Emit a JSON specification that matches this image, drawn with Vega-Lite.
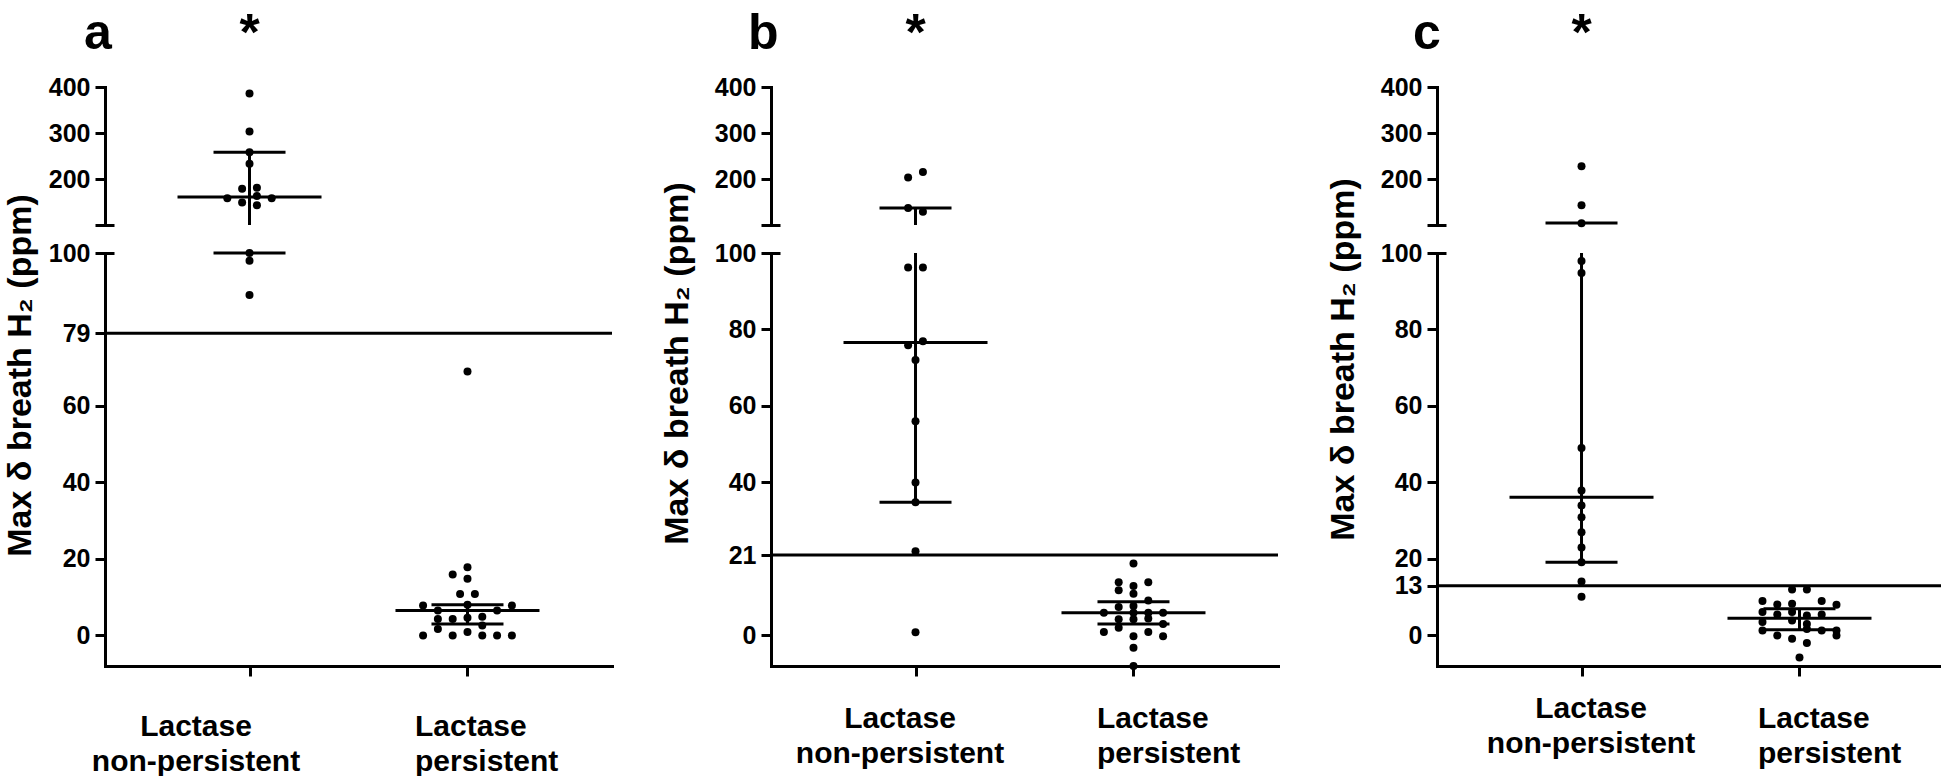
{
  "$schema": "https://vega.github.io/schema/vega-lite/v6.json",
  "background": "white",
  "padding": {"left": 2, "top": 8, "right": 0, "bottom": 0},
  "autosize": {"type": "pad"},
  "columns": 3,
  "spacing": {"row": 28, "column": 159},
  "bounds": "flush",
  "datasets": {
    "pts": [
      {"panel": "a", "grp": "NP", "v": 386, "j": 0}, {"panel": "a", "grp": "NP", "v": 303, "j": 0}, {"panel": "a", "grp": "NP", "v": 258, "j": 0}, {"panel": "a", "grp": "NP", "v": 233, "j": 0},
      {"panel": "a", "grp": "NP", "v": 179, "j": -1}, {"panel": "a", "grp": "NP", "v": 181, "j": 1}, {"panel": "a", "grp": "NP", "v": 158, "j": -3}, {"panel": "a", "grp": "NP", "v": 149, "j": -1},
      {"panel": "a", "grp": "NP", "v": 163, "j": 1}, {"panel": "a", "grp": "NP", "v": 158, "j": 3}, {"panel": "a", "grp": "NP", "v": 143, "j": 1}, {"panel": "a", "grp": "NP", "v": 100, "j": 0},
      {"panel": "a", "grp": "NP", "v": 98, "j": 0}, {"panel": "a", "grp": "NP", "v": 89, "j": 0},
      {"panel": "a", "grp": "P", "v": 69, "j": 0}, {"panel": "a", "grp": "P", "v": 17.8, "j": 0}, {"panel": "a", "grp": "P", "v": 15.9, "j": -2}, {"panel": "a", "grp": "P", "v": 14.8, "j": 0},
      {"panel": "a", "grp": "P", "v": 10.8, "j": -1}, {"panel": "a", "grp": "P", "v": 10.8, "j": 1}, {"panel": "a", "grp": "P", "v": 7.8, "j": -6}, {"panel": "a", "grp": "P", "v": 8, "j": 0},
      {"panel": "a", "grp": "P", "v": 7.8, "j": 6}, {"panel": "a", "grp": "P", "v": 6.5, "j": -4}, {"panel": "a", "grp": "P", "v": 6.5, "j": 4}, {"panel": "a", "grp": "P", "v": 4.3, "j": -4},
      {"panel": "a", "grp": "P", "v": 4.3, "j": -2}, {"panel": "a", "grp": "P", "v": 4.6, "j": 0}, {"panel": "a", "grp": "P", "v": 4.9, "j": 2}, {"panel": "a", "grp": "P", "v": 1.7, "j": -4},
      {"panel": "a", "grp": "P", "v": 2.6, "j": 2}, {"panel": "a", "grp": "P", "v": 0, "j": -6}, {"panel": "a", "grp": "P", "v": 0, "j": -2}, {"panel": "a", "grp": "P", "v": 0.9, "j": 0},
      {"panel": "a", "grp": "P", "v": 0, "j": 2}, {"panel": "a", "grp": "P", "v": 0, "j": 4}, {"panel": "a", "grp": "P", "v": 0, "j": 6},
      {"panel": "b", "grp": "NP", "v": 215, "j": 1}, {"panel": "b", "grp": "NP", "v": 203, "j": -1}, {"panel": "b", "grp": "NP", "v": 137, "j": -1}, {"panel": "b", "grp": "NP", "v": 128.6, "j": 1},
      {"panel": "b", "grp": "NP", "v": 96.2, "j": -1}, {"panel": "b", "grp": "NP", "v": 96.2, "j": 1}, {"panel": "b", "grp": "NP", "v": 75.9, "j": -1}, {"panel": "b", "grp": "NP", "v": 76.9, "j": 1},
      {"panel": "b", "grp": "NP", "v": 72, "j": 0}, {"panel": "b", "grp": "NP", "v": 56, "j": 0}, {"panel": "b", "grp": "NP", "v": 40, "j": 0}, {"panel": "b", "grp": "NP", "v": 34.8, "j": 0},
      {"panel": "b", "grp": "NP", "v": 22, "j": 0}, {"panel": "b", "grp": "NP", "v": 0.8, "j": 0},
      {"panel": "b", "grp": "P", "v": 18.8, "j": 0}, {"panel": "b", "grp": "P", "v": 13.9, "j": -2}, {"panel": "b", "grp": "P", "v": 12.9, "j": 0}, {"panel": "b", "grp": "P", "v": 13.9, "j": 2},
      {"panel": "b", "grp": "P", "v": 11.8, "j": -2}, {"panel": "b", "grp": "P", "v": 10.9, "j": 0}, {"panel": "b", "grp": "P", "v": 9.1, "j": 2}, {"panel": "b", "grp": "P", "v": 7.7, "j": 0},
      {"panel": "b", "grp": "P", "v": 7.4, "j": -2}, {"panel": "b", "grp": "P", "v": 5.9, "j": -4}, {"panel": "b", "grp": "P", "v": 5.9, "j": 0}, {"panel": "b", "grp": "P", "v": 5.9, "j": 2},
      {"panel": "b", "grp": "P", "v": 5.9, "j": 4}, {"panel": "b", "grp": "P", "v": 4.2, "j": -2}, {"panel": "b", "grp": "P", "v": 4.2, "j": 0}, {"panel": "b", "grp": "P", "v": 4.4, "j": 2},
      {"panel": "b", "grp": "P", "v": 3, "j": 4}, {"panel": "b", "grp": "P", "v": 2, "j": -2}, {"panel": "b", "grp": "P", "v": 0.9, "j": -4}, {"panel": "b", "grp": "P", "v": 0.9, "j": 2},
      {"panel": "b", "grp": "P", "v": -0.2, "j": 4}, {"panel": "b", "grp": "P", "v": -0.2, "j": 0}, {"panel": "b", "grp": "P", "v": -3.2, "j": 0}, {"panel": "b", "grp": "P", "v": -8, "j": 0},
      {"panel": "c", "grp": "NP", "v": 227.8, "j": 0}, {"panel": "c", "grp": "NP", "v": 142.8, "j": 0}, {"panel": "c", "grp": "NP", "v": 103.7, "j": 0}, {"panel": "c", "grp": "NP", "v": 97.9, "j": 0},
      {"panel": "c", "grp": "NP", "v": 94.8, "j": 0}, {"panel": "c", "grp": "NP", "v": 49, "j": 0}, {"panel": "c", "grp": "NP", "v": 37.9, "j": 0}, {"panel": "c", "grp": "NP", "v": 34, "j": 0},
      {"panel": "c", "grp": "NP", "v": 30.9, "j": 0}, {"panel": "c", "grp": "NP", "v": 27, "j": 0}, {"panel": "c", "grp": "NP", "v": 23, "j": 0}, {"panel": "c", "grp": "NP", "v": 19.1, "j": 0},
      {"panel": "c", "grp": "NP", "v": 14.1, "j": 0}, {"panel": "c", "grp": "NP", "v": 10.1, "j": 0},
      {"panel": "c", "grp": "P", "v": 12, "j": -1}, {"panel": "c", "grp": "P", "v": 12, "j": 1}, {"panel": "c", "grp": "P", "v": 9, "j": -5}, {"panel": "c", "grp": "P", "v": 8.1, "j": -3},
      {"panel": "c", "grp": "P", "v": 8.3, "j": -1}, {"panel": "c", "grp": "P", "v": 9, "j": 3}, {"panel": "c", "grp": "P", "v": 8, "j": 5}, {"panel": "c", "grp": "P", "v": 6.1, "j": -5},
      {"panel": "c", "grp": "P", "v": 5.5, "j": -3}, {"panel": "c", "grp": "P", "v": 6.1, "j": -1}, {"panel": "c", "grp": "P", "v": 5.2, "j": 1}, {"panel": "c", "grp": "P", "v": 5.5, "j": 3},
      {"panel": "c", "grp": "P", "v": 3.9, "j": -1}, {"panel": "c", "grp": "P", "v": 3.5, "j": -5}, {"panel": "c", "grp": "P", "v": 3, "j": 1}, {"panel": "c", "grp": "P", "v": 1.7, "j": 1},
      {"panel": "c", "grp": "P", "v": 1.3, "j": -5}, {"panel": "c", "grp": "P", "v": 1.3, "j": 3}, {"panel": "c", "grp": "P", "v": 1.3, "j": 5}, {"panel": "c", "grp": "P", "v": 0, "j": -3},
      {"panel": "c", "grp": "P", "v": -0.9, "j": -1}, {"panel": "c", "grp": "P", "v": 0, "j": 5}, {"panel": "c", "grp": "P", "v": -2, "j": 1}, {"panel": "c", "grp": "P", "v": -5.8, "j": 0}
    ],
    "stats": [
      {"panel": "a", "grp": "NP", "q1": 100, "med": 161, "q3": 258},
      {"panel": "a", "grp": "P", "q1": 3, "med": 6.5, "q3": 8},
      {"panel": "b", "grp": "NP", "q1": 34.8, "med": 76.6, "q3": 137},
      {"panel": "b", "grp": "P", "q1": 3, "med": 5.9, "q3": 8.8},
      {"panel": "c", "grp": "NP", "q1": 19.1, "med": 36.1, "q3": 104.3},
      {"panel": "c", "grp": "P", "q1": 1.5, "med": 4.5, "q3": 7}
    ],
    "thr": [
      {"panel": "a", "t": 79}, {"panel": "b", "t": 21}, {"panel": "c", "t": 13}
    ],
    "star": [
      {"panel": "a", "grp": "NP", "y": 480}, {"panel": "b", "grp": "NP", "y": 480}, {"panel": "c", "grp": "NP", "y": 480}
    ]
  },
  "concat": [
    {
      "width": 507, "height": 138,
      "title": {"text": "a", "anchor": "start", "frame": "group", "dx": -21, "offset": -91, "fontSize": 50, "font": "Liberation Sans", "fontWeight": "bold", "color": "black", "baseline": "alphabetic"},
      "resolve": {"axis": {"y": "independent", "x": "independent"}},
      "layer": [
        {"data": {"name": "pts"}, "transform": [{"filter": "datum.panel == 'a' && datum.v > 100"}],
         "mark": {"type": "circle", "size": 64, "opacity": 1, "color": "black"},
         "encoding": {
           "x": {"field": "grp", "type": "nominal", "scale": {"type": "point", "domain": ["NP", "P"], "padding": 0.663}, "axis": null},
           "xOffset": {"field": "j", "type": "quantitative", "scale": {"domain": [-6, 6], "range": [-44.4, 44.4]}},
           "y": {"field": "v", "type": "quantitative", "scale": {"domain": [100, 400], "nice": false, "zero": false}, "axis": {"values": [100, 200, 300, 400], "labelExpr": "datum.value == 100 ? '' : datum.label", "title": null}}
         }},
        {"data": {"name": "stats"}, "transform": [{"filter": "datum.panel == 'a'"}],
         "mark": {"type": "rule", "strokeWidth": 3, "color": "black", "opacity": 1, "clip": true},
         "encoding": {
           "x": {"field": "grp", "type": "nominal", "axis": null},
           "y": {"field": "q1", "type": "quantitative", "axis": {"orient": "left", "values": [100], "tickSize": -9, "labels": false, "domain": false, "title": null}},
           "y2": {"field": "q3"}
         }},
        {"data": {"name": "stats"}, "transform": [{"filter": "datum.panel == 'a' && datum.med > 100"}],
         "mark": {"type": "tick", "size": 144, "thickness": 3, "color": "black", "opacity": 1, "orient": "horizontal"},
         "encoding": {"x": {"field": "grp", "type": "nominal", "axis": null}, "y": {"field": "med", "type": "quantitative", "axis": null}}},
        {"data": {"name": "stats"}, "transform": [{"filter": "datum.panel == 'a' && datum.q1 > 100"}],
         "mark": {"type": "tick", "size": 72, "thickness": 3, "color": "black", "opacity": 1, "orient": "horizontal"},
         "encoding": {"x": {"field": "grp", "type": "nominal", "axis": null}, "y": {"field": "q1", "type": "quantitative", "axis": null}}},
        {"data": {"name": "stats"}, "transform": [{"filter": "datum.panel == 'a' && datum.q3 > 100"}],
         "mark": {"type": "tick", "size": 72, "thickness": 3, "color": "black", "opacity": 1, "orient": "horizontal"},
         "encoding": {"x": {"field": "grp", "type": "nominal", "axis": null}, "y": {"field": "q3", "type": "quantitative", "axis": null}}},
        {"data": {"name": "star"}, "transform": [{"filter": "datum.panel == 'a'"}],
         "mark": {"type": "text", "text": "*", "fontSize": 52, "fontWeight": "bold", "font": "Liberation Sans", "color": "black", "baseline": "alphabetic", "align": "center"},
         "encoding": {"x": {"field": "grp", "type": "nominal", "axis": null}, "y": {"field": "y", "type": "quantitative", "axis": null}}}
      ]
    },
    {
      "width": 507, "height": 138,
      "title": {"text": "b", "anchor": "start", "frame": "group", "dx": -23, "offset": -91, "fontSize": 50, "font": "Liberation Sans", "fontWeight": "bold", "color": "black", "baseline": "alphabetic"},
      "resolve": {"axis": {"y": "independent", "x": "independent"}},
      "layer": [
        {"data": {"name": "pts"}, "transform": [{"filter": "datum.panel == 'b' && datum.v > 100"}],
         "mark": {"type": "circle", "size": 64, "opacity": 1, "color": "black"},
         "encoding": {
           "x": {"field": "grp", "type": "nominal", "scale": {"type": "point", "domain": ["NP", "P"], "padding": 0.663}, "axis": null},
           "xOffset": {"field": "j", "type": "quantitative", "scale": {"domain": [-6, 6], "range": [-44.4, 44.4]}},
           "y": {"field": "v", "type": "quantitative", "scale": {"domain": [100, 400], "nice": false, "zero": false}, "axis": {"values": [100, 200, 300, 400], "labelExpr": "datum.value == 100 ? '' : datum.label", "title": null}}
         }},
        {"data": {"name": "stats"}, "transform": [{"filter": "datum.panel == 'b'"}],
         "mark": {"type": "rule", "strokeWidth": 3, "color": "black", "opacity": 1, "clip": true},
         "encoding": {
           "x": {"field": "grp", "type": "nominal", "axis": null},
           "y": {"field": "q1", "type": "quantitative", "axis": {"orient": "left", "values": [100], "tickSize": -9, "labels": false, "domain": false, "title": null}},
           "y2": {"field": "q3"}
         }},
        {"data": {"name": "stats"}, "transform": [{"filter": "datum.panel == 'b' && datum.med > 100"}],
         "mark": {"type": "tick", "size": 144, "thickness": 3, "color": "black", "opacity": 1, "orient": "horizontal"},
         "encoding": {"x": {"field": "grp", "type": "nominal", "axis": null}, "y": {"field": "med", "type": "quantitative", "axis": null}}},
        {"data": {"name": "stats"}, "transform": [{"filter": "datum.panel == 'b' && datum.q1 > 100"}],
         "mark": {"type": "tick", "size": 72, "thickness": 3, "color": "black", "opacity": 1, "orient": "horizontal"},
         "encoding": {"x": {"field": "grp", "type": "nominal", "axis": null}, "y": {"field": "q1", "type": "quantitative", "axis": null}}},
        {"data": {"name": "stats"}, "transform": [{"filter": "datum.panel == 'b' && datum.q3 > 100"}],
         "mark": {"type": "tick", "size": 72, "thickness": 3, "color": "black", "opacity": 1, "orient": "horizontal"},
         "encoding": {"x": {"field": "grp", "type": "nominal", "axis": null}, "y": {"field": "q3", "type": "quantitative", "axis": null}}},
        {"data": {"name": "star"}, "transform": [{"filter": "datum.panel == 'b'"}],
         "mark": {"type": "text", "text": "*", "fontSize": 52, "fontWeight": "bold", "font": "Liberation Sans", "color": "black", "baseline": "alphabetic", "align": "center"},
         "encoding": {"x": {"field": "grp", "type": "nominal", "axis": null}, "y": {"field": "y", "type": "quantitative", "axis": null}}}
      ]
    },
    {
      "width": 507, "height": 138,
      "title": {"text": "c", "anchor": "start", "frame": "group", "dx": -24, "offset": -91, "fontSize": 50, "font": "Liberation Sans", "fontWeight": "bold", "color": "black", "baseline": "alphabetic"},
      "resolve": {"axis": {"y": "independent", "x": "independent"}},
      "layer": [
        {"data": {"name": "pts"}, "transform": [{"filter": "datum.panel == 'c' && datum.v > 100"}],
         "mark": {"type": "circle", "size": 64, "opacity": 1, "color": "black"},
         "encoding": {
           "x": {"field": "grp", "type": "nominal", "scale": {"type": "point", "domain": ["NP", "P"], "padding": 0.663}, "axis": null},
           "xOffset": {"field": "j", "type": "quantitative", "scale": {"domain": [-6, 6], "range": [-44.4, 44.4]}},
           "y": {"field": "v", "type": "quantitative", "scale": {"domain": [100, 400], "nice": false, "zero": false}, "axis": {"values": [100, 200, 300, 400], "labelExpr": "datum.value == 100 ? '' : datum.label", "title": null}}
         }},
        {"data": {"name": "stats"}, "transform": [{"filter": "datum.panel == 'c'"}],
         "mark": {"type": "rule", "strokeWidth": 3, "color": "black", "opacity": 1, "clip": true},
         "encoding": {
           "x": {"field": "grp", "type": "nominal", "axis": null},
           "y": {"field": "q1", "type": "quantitative", "axis": {"orient": "left", "values": [100], "tickSize": -9, "labels": false, "domain": false, "title": null}},
           "y2": {"field": "q3"}
         }},
        {"data": {"name": "stats"}, "transform": [{"filter": "datum.panel == 'c' && datum.med > 100"}],
         "mark": {"type": "tick", "size": 144, "thickness": 3, "color": "black", "opacity": 1, "orient": "horizontal"},
         "encoding": {"x": {"field": "grp", "type": "nominal", "axis": null}, "y": {"field": "med", "type": "quantitative", "axis": null}}},
        {"data": {"name": "stats"}, "transform": [{"filter": "datum.panel == 'c' && datum.q1 > 100"}],
         "mark": {"type": "tick", "size": 72, "thickness": 3, "color": "black", "opacity": 1, "orient": "horizontal"},
         "encoding": {"x": {"field": "grp", "type": "nominal", "axis": null}, "y": {"field": "q1", "type": "quantitative", "axis": null}}},
        {"data": {"name": "stats"}, "transform": [{"filter": "datum.panel == 'c' && datum.q3 > 100"}],
         "mark": {"type": "tick", "size": 72, "thickness": 3, "color": "black", "opacity": 1, "orient": "horizontal"},
         "encoding": {"x": {"field": "grp", "type": "nominal", "axis": null}, "y": {"field": "q3", "type": "quantitative", "axis": null}}},
        {"data": {"name": "star"}, "transform": [{"filter": "datum.panel == 'c'"}],
         "mark": {"type": "text", "text": "*", "fontSize": 52, "fontWeight": "bold", "font": "Liberation Sans", "color": "black", "baseline": "alphabetic", "align": "center"},
         "encoding": {"x": {"field": "grp", "type": "nominal", "axis": null}, "y": {"field": "y", "type": "quantitative", "axis": null}}}
      ]
    },
    {
      "width": 507, "height": 413,
      "resolve": {"axis": {"y": "independent", "x": "independent"}},
      "layer": [
        {"data": {"name": "thr"}, "transform": [{"filter": "datum.panel == 'a'"}],
         "mark": {"type": "rule", "strokeWidth": 3, "color": "black", "opacity": 1},
         "encoding": {"y": {"field": "t", "type": "quantitative", "scale": {"domain": [-8, 100], "nice": false, "zero": false}, "axis": null}}},
        {"data": {"name": "pts"}, "transform": [{"filter": "datum.panel == 'a' && datum.v <= 100"}],
         "mark": {"type": "circle", "size": 64, "opacity": 1, "color": "black"},
         "encoding": {
           "x": {"field": "grp", "type": "nominal", "scale": {"type": "point", "domain": ["NP", "P"], "padding": 0.663},
                 "axis": {"title": null, "labelAngle": 0, "labelLimit": 0, "labelExpr": "datum.value == 'NP' ? ['Lactase', 'non-persistent'] : ['Lactase', 'persistent']", "labelFontSize": 30, "labelLineHeight": 35, "labelBaseline": "top",
                          "labelAlign": {"condition": {"test": "datum.value == 'P'", "value": "left"}, "value": "center"},
                          "labelOffset": {"condition": {"test": "datum.value == 'P'", "value": -53}, "value": -54},
                          "labelPadding": 35, "tickSize": 10}},
           "xOffset": {"field": "j", "type": "quantitative", "scale": {"domain": [-6, 6], "range": [-44.4, 44.4]}},
           "y": {"field": "v", "type": "quantitative", "scale": {"domain": [-8, 100], "nice": false, "zero": false},
                 "axis": {"values": [0, 20, 40, 60, 79, 100], "title": "Max δ breath H₂   (ppm)", "titleX": -68, "titleY": 122, "titleFontSize": 34, "titleFont": "Liberation Sans", "titleFontWeight": "bold", "titleAlign": "center", "titleBaseline": "bottom", "titleAngle": 270}}
         }},
        {"data": {"name": "stats"}, "transform": [{"filter": "datum.panel == 'a'"}],
         "mark": {"type": "rule", "strokeWidth": 3, "color": "black", "opacity": 1, "clip": true},
         "encoding": {
           "x": {"field": "grp", "type": "nominal", "axis": null},
           "y": {"field": "q1", "type": "quantitative", "axis": {"orient": "left", "values": [100], "tickSize": -9, "labels": false, "domain": false, "title": null}},
           "y2": {"field": "q3"}
         }},
        {"data": {"name": "stats"}, "transform": [{"filter": "datum.panel == 'a' && datum.med <= 100"}],
         "mark": {"type": "tick", "size": 144, "thickness": 3, "color": "black", "opacity": 1, "orient": "horizontal"},
         "encoding": {"x": {"field": "grp", "type": "nominal", "axis": null}, "y": {"field": "med", "type": "quantitative", "axis": null}}},
        {"data": {"name": "stats"}, "transform": [{"filter": "datum.panel == 'a' && datum.q1 <= 100"}],
         "mark": {"type": "tick", "size": 72, "thickness": 3, "color": "black", "opacity": 1, "orient": "horizontal"},
         "encoding": {"x": {"field": "grp", "type": "nominal", "axis": null}, "y": {"field": "q1", "type": "quantitative", "axis": null}}},
        {"data": {"name": "stats"}, "transform": [{"filter": "datum.panel == 'a' && datum.q3 <= 100"}],
         "mark": {"type": "tick", "size": 72, "thickness": 3, "color": "black", "opacity": 1, "orient": "horizontal"},
         "encoding": {"x": {"field": "grp", "type": "nominal", "axis": null}, "y": {"field": "q3", "type": "quantitative", "axis": null}}}
      ]
    },
    {
      "width": 507, "height": 413,
      "resolve": {"axis": {"y": "independent", "x": "independent"}},
      "layer": [
        {"data": {"name": "thr"}, "transform": [{"filter": "datum.panel == 'b'"}],
         "mark": {"type": "rule", "strokeWidth": 3, "color": "black", "opacity": 1},
         "encoding": {"y": {"field": "t", "type": "quantitative", "scale": {"domain": [-8, 100], "nice": false, "zero": false}, "axis": null}}},
        {"data": {"name": "pts"}, "transform": [{"filter": "datum.panel == 'b' && datum.v <= 100"}],
         "mark": {"type": "circle", "size": 64, "opacity": 1, "color": "black"},
         "encoding": {
           "x": {"field": "grp", "type": "nominal", "scale": {"type": "point", "domain": ["NP", "P"], "padding": 0.663},
                 "axis": {"title": null, "labelAngle": 0, "labelLimit": 0, "labelExpr": "datum.value == 'NP' ? ['Lactase', 'non-persistent'] : ['Lactase', 'persistent']", "labelFontSize": 30, "labelLineHeight": 35, "labelBaseline": "top",
                          "labelAlign": {"condition": {"test": "datum.value == 'P'", "value": "left"}, "value": "center"},
                          "labelOffset": {"condition": {"test": "datum.value == 'P'", "value": -37}, "value": -16},
                          "labelPadding": 27, "tickSize": 10}},
           "xOffset": {"field": "j", "type": "quantitative", "scale": {"domain": [-6, 6], "range": [-44.4, 44.4]}},
           "y": {"field": "v", "type": "quantitative", "scale": {"domain": [-8, 100], "nice": false, "zero": false},
                 "axis": {"values": [0, 21, 40, 60, 80, 100], "title": "Max δ breath H₂   (ppm)", "titleX": -77, "titleY": 110, "titleFontSize": 34, "titleFont": "Liberation Sans", "titleFontWeight": "bold", "titleAlign": "center", "titleBaseline": "bottom", "titleAngle": 270}}
         }},
        {"data": {"name": "stats"}, "transform": [{"filter": "datum.panel == 'b'"}],
         "mark": {"type": "rule", "strokeWidth": 3, "color": "black", "opacity": 1, "clip": true},
         "encoding": {
           "x": {"field": "grp", "type": "nominal", "axis": null},
           "y": {"field": "q1", "type": "quantitative", "axis": {"orient": "left", "values": [100], "tickSize": -9, "labels": false, "domain": false, "title": null}},
           "y2": {"field": "q3"}
         }},
        {"data": {"name": "stats"}, "transform": [{"filter": "datum.panel == 'b' && datum.med <= 100"}],
         "mark": {"type": "tick", "size": 144, "thickness": 3, "color": "black", "opacity": 1, "orient": "horizontal"},
         "encoding": {"x": {"field": "grp", "type": "nominal", "axis": null}, "y": {"field": "med", "type": "quantitative", "axis": null}}},
        {"data": {"name": "stats"}, "transform": [{"filter": "datum.panel == 'b' && datum.q1 <= 100"}],
         "mark": {"type": "tick", "size": 72, "thickness": 3, "color": "black", "opacity": 1, "orient": "horizontal"},
         "encoding": {"x": {"field": "grp", "type": "nominal", "axis": null}, "y": {"field": "q1", "type": "quantitative", "axis": null}}},
        {"data": {"name": "stats"}, "transform": [{"filter": "datum.panel == 'b' && datum.q3 <= 100"}],
         "mark": {"type": "tick", "size": 72, "thickness": 3, "color": "black", "opacity": 1, "orient": "horizontal"},
         "encoding": {"x": {"field": "grp", "type": "nominal", "axis": null}, "y": {"field": "q3", "type": "quantitative", "axis": null}}}
      ]
    },
    {
      "width": 507, "height": 413,
      "resolve": {"axis": {"y": "independent", "x": "independent"}},
      "layer": [
        {"data": {"name": "thr"}, "transform": [{"filter": "datum.panel == 'c'"}],
         "mark": {"type": "rule", "strokeWidth": 3, "color": "black", "opacity": 1},
         "encoding": {"y": {"field": "t", "type": "quantitative", "scale": {"domain": [-8, 100], "nice": false, "zero": false}, "axis": null}}},
        {"data": {"name": "pts"}, "transform": [{"filter": "datum.panel == 'c' && datum.v <= 100"}],
         "mark": {"type": "circle", "size": 64, "opacity": 1, "color": "black"},
         "encoding": {
           "x": {"field": "grp", "type": "nominal", "scale": {"type": "point", "domain": ["NP", "P"], "padding": 0.663},
                 "axis": {"title": null, "labelAngle": 0, "labelLimit": 0, "labelExpr": "datum.value == 'NP' ? ['Lactase', 'non-persistent'] : ['Lactase', 'persistent']", "labelFontSize": 30, "labelLineHeight": 35, "labelBaseline": "top",
                          "labelAlign": {"condition": {"test": "datum.value == 'P'", "value": "left"}, "value": "center"},
                          "labelOffset": {"condition": {"test": "datum.value == 'P'", "value": -42}, "value": 9},
                          "labelPadding": {"condition": {"test": "datum.value == 'P'", "value": 27}, "value": 17}, "tickSize": 10}},
           "xOffset": {"field": "j", "type": "quantitative", "scale": {"domain": [-6, 6], "range": [-44.4, 44.4]}},
           "y": {"field": "v", "type": "quantitative", "scale": {"domain": [-8, 100], "nice": false, "zero": false},
                 "axis": {"values": [0, 13, 20, 40, 60, 80, 100], "title": "Max δ breath H₂   (ppm)", "titleX": -77, "titleY": 106, "titleFontSize": 34, "titleFont": "Liberation Sans", "titleFontWeight": "bold", "titleAlign": "center", "titleBaseline": "bottom", "titleAngle": 270}}
         }},
        {"data": {"name": "stats"}, "transform": [{"filter": "datum.panel == 'c'"}],
         "mark": {"type": "rule", "strokeWidth": 3, "color": "black", "opacity": 1, "clip": true},
         "encoding": {
           "x": {"field": "grp", "type": "nominal", "axis": null},
           "y": {"field": "q1", "type": "quantitative", "axis": {"orient": "left", "values": [100], "tickSize": -9, "labels": false, "domain": false, "title": null}},
           "y2": {"field": "q3"}
         }},
        {"data": {"name": "stats"}, "transform": [{"filter": "datum.panel == 'c' && datum.med <= 100"}],
         "mark": {"type": "tick", "size": 144, "thickness": 3, "color": "black", "opacity": 1, "orient": "horizontal"},
         "encoding": {"x": {"field": "grp", "type": "nominal", "axis": null}, "y": {"field": "med", "type": "quantitative", "axis": null}}},
        {"data": {"name": "stats"}, "transform": [{"filter": "datum.panel == 'c' && datum.q1 <= 100"}],
         "mark": {"type": "tick", "size": 72, "thickness": 3, "color": "black", "opacity": 1, "orient": "horizontal"},
         "encoding": {"x": {"field": "grp", "type": "nominal", "axis": null}, "y": {"field": "q1", "type": "quantitative", "axis": null}}},
        {"data": {"name": "stats"}, "transform": [{"filter": "datum.panel == 'c' && datum.q3 <= 100"}],
         "mark": {"type": "tick", "size": 72, "thickness": 3, "color": "black", "opacity": 1, "orient": "horizontal"},
         "encoding": {"x": {"field": "grp", "type": "nominal", "axis": null}, "y": {"field": "q3", "type": "quantitative", "axis": null}}}
      ]
    }
  ],
  "config": {
    "view": {"stroke": null},
    "font": "Liberation Sans",
    "axis": {"domainColor": "black", "domainWidth": 3, "domainCap": "square", "tickColor": "black", "tickWidth": 3, "tickSize": 10, "labelColor": "black", "labelFont": "Liberation Sans", "labelFontWeight": "bold", "labelFontSize": 25, "labelPadding": 5, "labelOverlap": false, "labelFlush": false, "titleColor": "black", "grid": false}
  }
}
